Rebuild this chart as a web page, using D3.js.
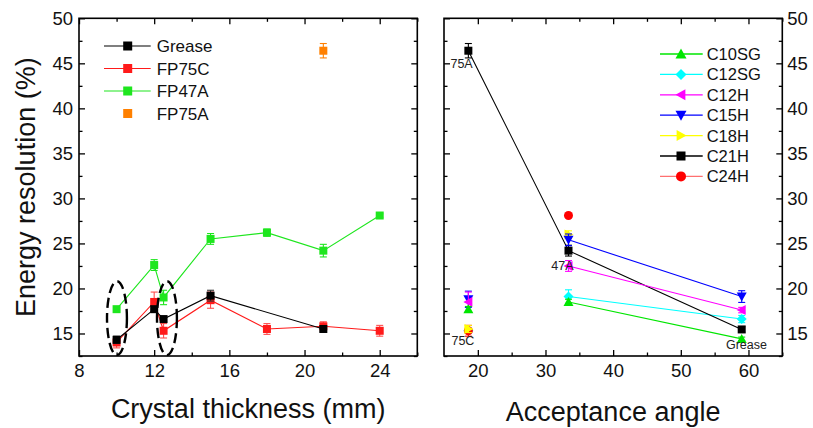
<!DOCTYPE html>
<html><head><meta charset="utf-8">
<script src="https://cdn.jsdelivr.net/npm/d3@7"></script>
<style>
body{margin:0;background:#fff;}
svg{display:block;font-family:"Liberation Sans",Arial,sans-serif;}
</style></head>
<body><svg id="c" width="813" height="428"></svg>
<script>
// ---------- DATA ----------
const thickGrease = [10, 12, 12.5, 15, 21];
const grease      = [14.3, 17.7, 16.6, 19.2, 15.5];
const greaseErr   = [0.4, 0.3, 0.3, 0.6, 0.3];
const thickFP     = [10, 12, 12.5, 15, 18, 21, 24];
const fp75c       = [14.0, 18.5, 15.3, 18.7, 15.5, 15.8, 15.3];
const fp75cErr    = [0.6, 1.1, 0.8, 0.9, 0.6, 0.5, 0.6];
const fp47a       = [17.7, 22.6, 19.0, 25.5, 26.2, 24.2, 28.1];
const fp47aErr    = [0.2, 0.6, 0.8, 0.6, 0.4, 0.7, 0.2];
const thickFP75A  = [21];
const fp75a       = [46.4];
const fp75aErr    = [0.8];

const angles  = [18.6, 33.4, 59];
const c10sg   = [17.7, 18.5, 14.4];  const c10sgErr = [0.3, 0.3, 0.2];
const c12sg   = [15.3, 19.1, 16.6];  const c12sgErr = [0.3, 0.75, 0.4];
const c12h    = [18.5, 22.5, 17.6];  const c12hErr  = [1.1, 0.6, 0.3];
const c15h    = [18.8, 25.4, 19.1];  const c15hErr  = [0.9, 0.65, 0.65];
const c18h    = [15.5, 26.0, null];  const c18hErr  = [0.4, 0.4, 0];
const c21h    = [46.4, 24.2, 15.45]; const c21hErr  = [0.8, 0.6, 0.3];
const c24h    = [15.3, 28.1, null];  const c24hErr  = [0.6, 0.2, 0];

const yTicks = [15, 20, 25, 30, 35, 40, 45, 50];
const xTicksL = [8, 12, 16, 20, 24];
const xTicksR = [20, 30, 40, 50, 60];
const ellipses = [{cx: 10.02, cy: 16.7, rx: 0.53, ry: 4.1}, {cx: 12.68, cy: 16.7, rx: 0.53, ry: 4.1}];
const notes = [{t: "75A", x: 17.6, y: 44.5}, {t: "47A", x: 32.5, y: 22.0}, {t: "75C", x: 17.8, y: 13.7}, {t: "Grease", x: 59.7, y: 13.25}];

// ---------- LAYOUT ----------
const svg = d3.select("#c");
const yTop = 18.3, yBot = 356;
const y = d3.scaleLinear().domain([12.5, 50]).range([yBot, yTop]);
const xL = d3.scaleLinear().domain([8, 26]).range([79, 417.3]);
const xR = d3.scaleLinear().domain([15, 65]).range([444, 782.3]);
const FS = 18.5;

function frame(x, xt, xminor, leftLabels, rightLabels) {
  const g = svg.append("g");
  const [x0, x1] = x.range();
  g.append("g").attr("transform", `translate(0,${yBot})`)
    .call(d3.axisBottom(x).tickValues(xt).tickSize(-6).tickPadding(8).tickFormat(d3.format("d")))
    .call(a => a.select(".domain").remove());
  g.append("g").attr("transform", `translate(0,${yBot})`)
    .call(d3.axisBottom(x).tickValues(xminor).tickSize(-3.5).tickFormat(""))
    .call(a => a.select(".domain").remove());
  g.append("g").attr("transform", `translate(0,${yTop})`)
    .call(d3.axisTop(x).tickValues(xt).tickSize(-6).tickFormat(""))
    .call(a => a.select(".domain").remove());
  g.append("g").attr("transform", `translate(0,${yTop})`)
    .call(d3.axisTop(x).tickValues(xminor).tickSize(-3.5).tickFormat(""))
    .call(a => a.select(".domain").remove());
  const yminor = d3.range(12.5, 50.01, 5);
  g.append("g").attr("transform", `translate(${x0},0)`)
    .call(d3.axisLeft(y).tickValues(yTicks).tickSize(-6).tickPadding(leftLabels ? 6 : 0).tickFormat(leftLabels ? d3.format("d") : ""))
    .call(a => a.select(".domain").remove());
  g.append("g").attr("transform", `translate(${x0},0)`)
    .call(d3.axisLeft(y).tickValues(yminor).tickSize(-3.5).tickFormat(""))
    .call(a => a.select(".domain").remove());
  g.append("g").attr("transform", `translate(${x1},0)`)
    .call(d3.axisRight(y).tickValues(yTicks).tickSize(-6).tickPadding(rightLabels ? 5 : 0).tickFormat(rightLabels ? d3.format("d") : ""))
    .call(a => a.select(".domain").remove());
  g.append("g").attr("transform", `translate(${x1},0)`)
    .call(d3.axisRight(y).tickValues(yminor).tickSize(-3.5).tickFormat(""))
    .call(a => a.select(".domain").remove());
  g.selectAll(".tick line").attr("stroke", "#000").attr("stroke-width", 1.3);
  g.selectAll(".tick text").attr("font-size", FS).attr("fill", "#111").attr("font-family", "Liberation Sans, Arial, sans-serif");
  g.append("rect").attr("x", x0).attr("y", yTop).attr("width", x1 - x0).attr("height", yBot - yTop)
    .attr("fill", "none").attr("stroke", "#000").attr("stroke-width", 1.6);
  return g;
}

frame(xL, xTicksL, [10, 14, 18, 22, 26], true, false);
frame(xR, xTicksR, [25, 35, 45, 55, 65], false, true);

svg.append("text").attr("x", (xL.range()[0] + xL.range()[1]) / 2).attr("y", 418).attr("text-anchor", "middle")
  .attr("font-size", 27).attr("fill", "#111").text("Crystal thickness (mm)");
svg.append("text").attr("x", (xR.range()[0] + xR.range()[1]) / 2).attr("y", 421).attr("text-anchor", "middle")
  .attr("font-size", 27).attr("fill", "#111").text("Acceptance angle");
svg.append("text").attr("transform", `translate(35,${(yTop + yBot) / 2}) rotate(-90)`).attr("text-anchor", "middle")
  .attr("font-size", 27).attr("fill", "#111").text("Energy resolution (%)");

// ---------- MARKERS ----------
function marker(g, type, cx, cy, color, s) {
  s = s || 8;
  if (type === "square") {
    g.append("rect").attr("x", cx - s / 2).attr("y", cy - s / 2).attr("width", s).attr("height", s).attr("fill", color);
  } else if (type === "circle") {
    g.append("circle").attr("cx", cx).attr("cy", cy).attr("r", s / 2 + 0.5).attr("fill", color);
  } else {
    const h = s / 2 + 1;
    let pts;
    if (type === "up") pts = [[0, -h], [h, h * 0.8], [-h, h * 0.8]];
    else if (type === "down") pts = [[0, h], [h, -h * 0.8], [-h, -h * 0.8]];
    else if (type === "left") pts = [[-h, 0], [h * 0.8, -h], [h * 0.8, h]];
    else if (type === "right") pts = [[h, 0], [-h * 0.8, -h], [-h * 0.8, h]];
    else if (type === "diamond") pts = [[0, -h], [h, 0], [0, h], [-h, 0]];
    g.append("polygon").attr("points", pts.map(p => [cx + p[0], cy + p[1]].join(",")).join(" ")).attr("fill", color);
  }
}

function series(x, xs, ys, errs, color, type, opts) {
  opts = opts || {};
  const g = svg.append("g");
  const pts = xs.map((d, i) => ({x: d, y: ys[i], e: errs[i], i})).filter(p => p.y != null);
  const from = opts.lineFrom == null ? 0 : opts.lineFrom;
  if (!opts.noLine) {
    const lp = pts.filter(p => p.i >= from);
    g.append("path").datum(lp).attr("fill", "none").attr("stroke", opts.lineColor || color).attr("stroke-width", 1.1)
      .attr("d", d3.line().x(p => x(p.x)).y(p => y(p.y)));
  }
  pts.forEach(p => {
    const cx = x(p.x), y1 = y(p.y + p.e), y2 = y(p.y - p.e);
    const eg = g.append("g").attr("stroke", opts.errColor || color).attr("stroke-width", 1.1);
    eg.append("line").attr("x1", cx).attr("x2", cx).attr("y1", y1).attr("y2", y2);
    eg.append("line").attr("x1", cx - 3.5).attr("x2", cx + 3.5).attr("y1", y1).attr("y2", y1);
    eg.append("line").attr("x1", cx - 3.5).attr("x2", cx + 3.5).attr("y1", y2).attr("y2", y2);
    marker(g, type, cx, y(p.y), color, opts.size);
  });
}

series(xL, thickFP, fp47a, fp47aErr, "#1ee61e", "square");
series(xL, thickFP, fp75c, fp75cErr, "#ff1a1a", "square", {errColor: "#ff5050"});
series(xL, thickGrease, grease, greaseErr, "#000", "square", {errColor: "#333"});
series(xL, thickFP75A, fp75a, fp75aErr, "#ff8000", "square", {noLine: true});

svg.append("g").selectAll("ellipse").data(ellipses).join("ellipse")
  .attr("cx", d => xL(d.cx)).attr("cy", d => y(d.cy))
  .attr("rx", d => xL(d.cx + d.rx) - xL(d.cx)).attr("ry", d => y(d.cy - d.ry) - y(d.cy))
  .attr("fill", "none").attr("stroke", "#000").attr("stroke-width", 2.4).attr("stroke-dasharray", "10,5");

const legL = [{n: "Grease", c: "#000", line: true}, {n: "FP75C", c: "#ff1a1a", line: true}, {n: "FP47A", c: "#1ee61e", line: true}, {n: "FP75A", c: "#ff8000", line: false}];
legL.forEach((d, i) => {
  const yy = 46 + i * 22.5;
  if (d.line) svg.append("line").attr("x1", 104).attr("x2", 150.7).attr("y1", yy).attr("y2", yy).attr("stroke", d.c).attr("stroke-width", 1.1);
  marker(svg, "square", 127.7, yy, d.c, 9);
  svg.append("text").attr("x", 156.7).attr("y", yy + 6).attr("font-size", 17).attr("fill", "#111").text(d.n);
});

const rs = [
  {n: "C10SG", v: c10sg, e: c10sgErr, c: "#00e600", t: "up"},
  {n: "C12SG", v: c12sg, e: c12sgErr, c: "#00ffff", t: "diamond"},
  {n: "C12H",  v: c12h,  e: c12hErr,  c: "#ff00ff", t: "left"},
  {n: "C15H",  v: c15h,  e: c15hErr,  c: "#0000ff", t: "down"},
  {n: "C18H",  v: c18h,  e: c18hErr,  c: "#ffff00", t: "right"},
  {n: "C21H",  v: c21h,  e: c21hErr,  c: "#000000", t: "square"},
  {n: "C24H",  v: c24h,  e: c24hErr,  c: "#ff0000", t: "circle", lc: "#ff7070"}
];
const drawOrder = ["C12SG", "C24H", "C21H", "C18H", "C15H", "C12H", "C10SG"];
drawOrder.map(n => rs.find(s => s.n === n))
  .forEach(s => series(xR, angles, s.v, s.e, s.c, s.t, {lineFrom: s.n === "C21H" ? 0 : 1, size: 8, lineColor: s.lc}));

svg.append("g").selectAll("text").data(notes).join("text")
  .attr("x", d => xR(d.x)).attr("y", d => y(d.y)).attr("text-anchor", "middle")
  .attr("font-size", 12.5).attr("fill", "#222").text(d => d.t);

rs.forEach((d, i) => {
  const yy = 54 + i * 20.4;
  svg.append("line").attr("x1", 660).attr("x2", 702.7).attr("y1", yy).attr("y2", yy).attr("stroke", d.lc || d.c).attr("stroke-width", 1.3);
  marker(svg, d.t, 681, yy, d.c, 9);
  svg.append("text").attr("x", 706.7).attr("y", yy + 6).attr("font-size", 16.5).attr("fill", "#111").text(d.n);
});
</script></body></html>
